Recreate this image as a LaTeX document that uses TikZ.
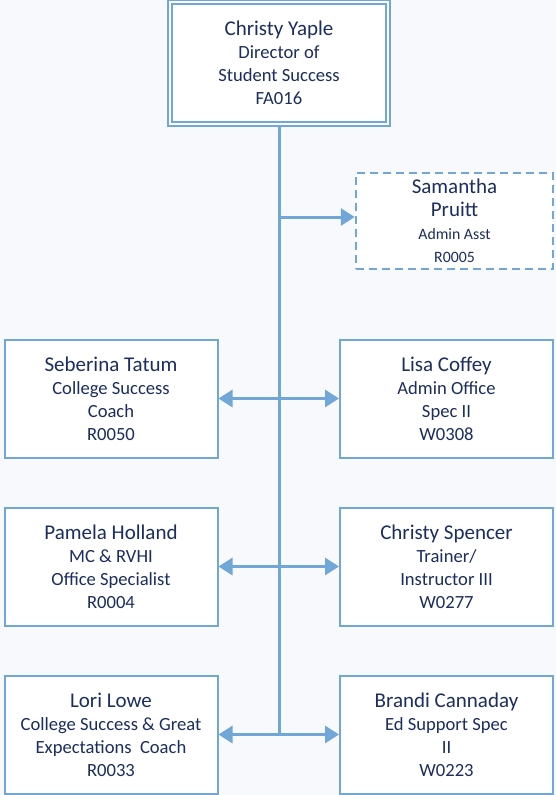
\documentclass[tikz,border=0pt]{standalone}
\usepackage{fontspec}
\setmainfont{Carlito}
\usetikzlibrary{arrows.meta}
\definecolor{lc}{RGB}{112,167,216}
\definecolor{tc}{RGB}{28,45,95}
\definecolor{bg}{RGB}{247,249,252}
\tikzset{
  box/.style={draw=lc, line width=2pt, fill=white, minimum width=213pt, minimum height=118pt, align=center, text=tc, inner sep=0pt, font=\fontsize{18.6}{23}\selectfont},
  topbox/.style={box, double=white, double distance=2pt, minimum width=218pt, minimum height=122pt},
  dbox/.style={box, dashed, line width=2.5pt, dash pattern=on 8pt off 5pt, minimum width=197pt, minimum height=96pt},
  conn/.style={draw=lc, line width=3pt},
  arr/.style={conn, -{Triangle[length=14pt,width=17pt]}, shorten >=0pt},
}
\newcommand{\nm}[1]{{\fontsize{21}{23}\selectfont #1}}
\begin{document}
\begin{tikzpicture}[x=1pt,y=-1pt]
\fill[bg] (0,0) rectangle (556,795);
\useasboundingbox (0,0) rectangle (556,795);
\node[topbox] (top) at (279,63) {\nm{Christy Yaple}\\Director of\\Student Success\\FA016};
\node[dbox] (sam) at (454.5,221) {\nm{Samantha}\\{\fontsize{21}{24}\selectfont Pruitt}\\{\fontsize{15.8}{20}\selectfont Admin Asst}\\{\fontsize{15.8}{18}\selectfont R0005}};
\node[box] (seb) at (111,398.5) {\nm{Seberina Tatum}\\College Success\\Coach\\R0050};
\node[box] (lisa) at (446.5,398.5) {\nm{Lisa Coffey}\\Admin Office\\Spec II\\W0308};
\node[box] (pam) at (111,566.5) {\nm{Pamela Holland}\\MC \& RVHI\\Office Specialist\\R0004};
\node[box] (cspen) at (446.5,566.5) {\nm{Christy Spencer}\\Trainer/\\Instructor III\\W0277};
\node[box] (lori) at (111,734.5) {\nm{Lori Lowe}\\College Success \& Great\\Expectations\ \ Coach\\R0033};
\node[box] (bran) at (446.5,734.5) {\nm{Brandi Cannaday}\\Ed Support Spec\\II\\W0223};
\coordinate (j0) at (279,217);
\coordinate (j1) at (279,398.5);
\coordinate (j2) at (279,566.5);
\coordinate (j3) at (279,734.5);
\draw[conn] (top.south) -- ([yshift=1.5pt]j3);
\draw[arr] (j0) -- (sam.west |- j0);
\draw[arr] (j1) -- (seb.east);
\draw[arr] (j1) -- (lisa.west);
\draw[arr] (j2) -- (pam.east);
\draw[arr] (j2) -- (cspen.west);
\draw[arr] (j3) -- (lori.east);
\draw[arr] (j3) -- (bran.west);
\end{tikzpicture}
\end{document}
